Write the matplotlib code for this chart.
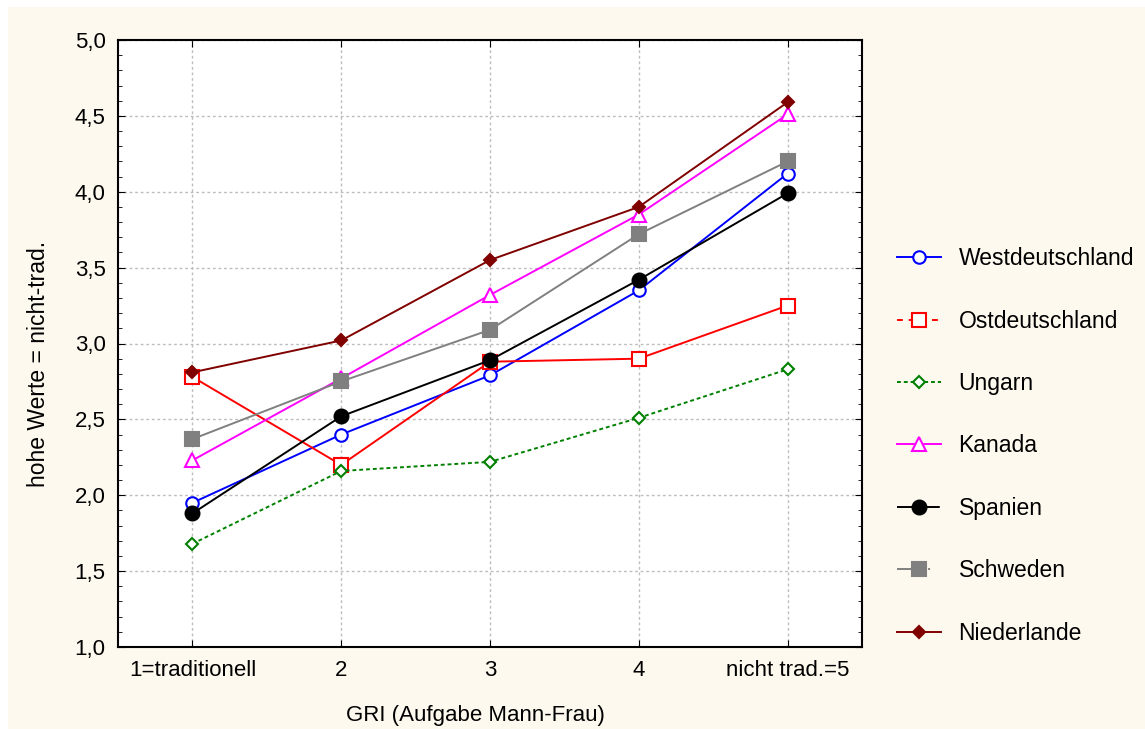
import matplotlib
matplotlib.use("Agg")
import matplotlib.pyplot as plt
from matplotlib.lines import Line2D
from matplotlib.patches import Rectangle
from matplotlib.ticker import FuncFormatter, MultipleLocator

plt.rcParams["font.family"] = ["Liberation Sans", "DejaVu Sans"]

x_labels = ["1=traditionell", "2", "3", "4", "nicht trad.=5"]
x_pos = [1, 2, 3, 4, 5]

westdeutschland = [1.95, 2.40, 2.79, 3.35, 4.12]
ostdeutschland = [2.78, 2.20, 2.88, 2.90, 3.25]
ungarn = [1.68, 2.16, 2.22, 2.51, 2.83]
kanada = [2.23, 2.77, 3.32, 3.85, 4.51]
spanien = [1.88, 2.52, 2.89, 3.42, 3.99]
schweden = [2.37, 2.75, 3.09, 3.72, 4.20]
niederlande = [2.81, 3.02, 3.55, 3.90, 4.59]

# name, values, style, line style used in the legend swatch
series = [
    ("Westdeutschland", westdeutschland, dict(color="#0000ff", marker="o", mfc="white", ms=9, ls="-"), "-"),
    ("Ostdeutschland", ostdeutschland, dict(color="#ff0000", marker="s", mfc="white", ms=9.5, ls="-"), (0, (3, 3))),
    ("Ungarn", ungarn, dict(color="#008000", marker="D", mfc="white", ms=6, ls=(0, (2, 1.5))), (0, (2, 1.5))),
    ("Kanada", kanada, dict(color="#ff00ff", marker="^", mfc="white", ms=9.5, ls="-"), "-"),
    ("Spanien", spanien, dict(color="black", marker="o", mfc="black", ms=10, ls="-"), (0, (8, 6))),
    ("Schweden", schweden, dict(color="#808080", marker="s", mfc="#808080", ms=10, ls="-"), (0, (9, 7, 1, 7))),
    ("Niederlande", niederlande, dict(color="#800000", marker="D", mfc="#800000", ms=6.5, ls="-"), "-"),
]

fig = plt.figure(figsize=(11.45, 7.29), dpi=100)
fig.patch.set_facecolor("white")
fig.patches.append(Rectangle((8 / 1145, 0), 1, 722 / 729,
                             transform=fig.transFigure, facecolor="#fdf9ee",
                             edgecolor="none", zorder=-10))

ax = fig.add_axes([118 / 1145, 1 - 647 / 729, 744 / 1145, 607 / 729])
ax.set_facecolor("white")

handles = []
for name, vals, st, leg_ls in series:
    ax.plot(x_pos, vals, color=st["color"], ls=st["ls"], lw=1.4,
            marker=st["marker"], ms=st["ms"], mfc=st["mfc"],
            mec=st["color"], mew=1.5, clip_on=False)
    handles.append(Line2D([], [], color=st["color"], ls=leg_ls, lw=1.4,
                          marker=st["marker"], ms=st["ms"], mfc=st["mfc"],
                          mec=st["color"], mew=1.5, label=name))

ax.set_xlim(0.5, 5.5)
ax.set_ylim(1.0, 5.0)
ax.set_xticks(x_pos)
ax.set_xticklabels(x_labels)
ax.yaxis.set_major_locator(MultipleLocator(0.5))
ax.yaxis.set_minor_locator(MultipleLocator(0.1))
ax.yaxis.set_major_formatter(FuncFormatter(lambda v, p: f"{v:.1f}".replace(".", ",")))
ax.tick_params(axis="both", which="both", direction="in", top=True, right=True,
               labelsize=16, pad=9, colors="black")
ax.tick_params(which="major", length=5)
ax.tick_params(which="minor", length=3)
ax.grid(True, which="major", color="#bdbdbd", ls=(0, (2, 2)), lw=1)
for sp in ax.spines.values():
    sp.set_linewidth(1.5)

ax.set_xlabel("GRI (Aufgabe Mann-Frau)", fontsize=16)
ax.set_ylabel("hohe Werte = nicht-trad.", fontsize=16.5)
ax.xaxis.set_label_coords(0.48, -0.095)
ax.yaxis.set_label_coords(-0.091, 0.467)

fig.legend(handles=handles, loc="center left", bbox_to_anchor=(876 / 1145, 1 - 446 / 729),
           frameon=False, fontsize=16.5, labelspacing=1.72, handlelength=1.95,
           handletextpad=0.75, numpoints=1)

fig.savefig("out.png", dpi=100)
